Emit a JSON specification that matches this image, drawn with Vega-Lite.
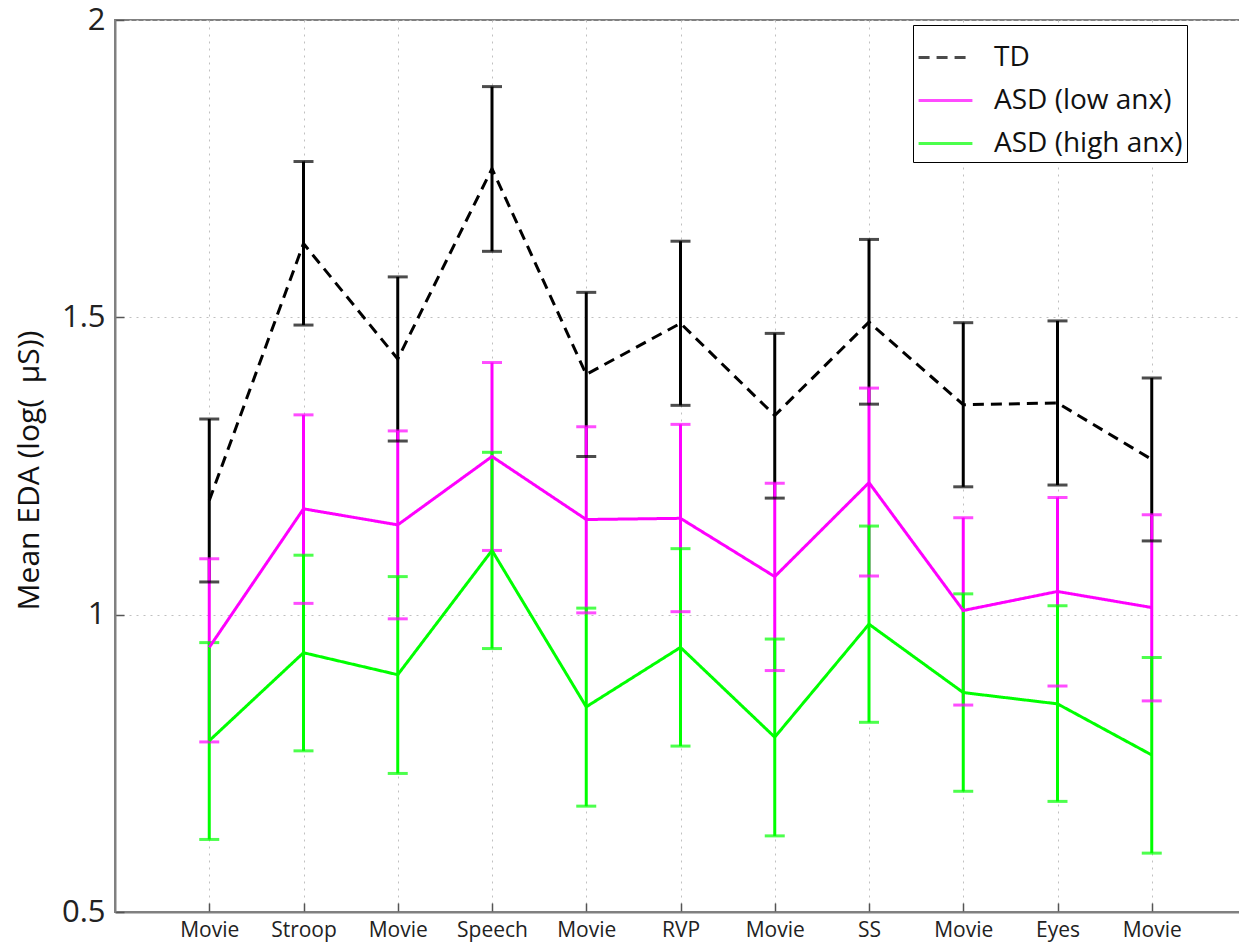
{
  "$schema": "https://vega.github.io/schema/vega-lite/v6.json",
  "width": 1131,
  "height": 892,
  "autosize": {"type": "none"},
  "padding": {"left": 115, "top": 20, "right": 0, "bottom": 34},
  "background": "white",
  "config": {
    "view": {"stroke": "#808080", "strokeWidth": 2},
    "font": "Open Sans"
  },
  "data": {
    "values": [
      {"pos": 1, "group": "TD", "mean": 1.192, "lo": 1.055, "hi": 1.329},
      {"pos": 2, "group": "TD", "mean": 1.624, "lo": 1.487, "hi": 1.762},
      {"pos": 3, "group": "TD", "mean": 1.430, "lo": 1.292, "hi": 1.568},
      {"pos": 4, "group": "TD", "mean": 1.750, "lo": 1.611, "hi": 1.888},
      {"pos": 5, "group": "TD", "mean": 1.404, "lo": 1.266, "hi": 1.542},
      {"pos": 6, "group": "TD", "mean": 1.490, "lo": 1.352, "hi": 1.628},
      {"pos": 7, "group": "TD", "mean": 1.335, "lo": 1.196, "hi": 1.473},
      {"pos": 8, "group": "TD", "mean": 1.492, "lo": 1.354, "hi": 1.631},
      {"pos": 9, "group": "TD", "mean": 1.353, "lo": 1.215, "hi": 1.491},
      {"pos": 10, "group": "TD", "mean": 1.356, "lo": 1.218, "hi": 1.494},
      {"pos": 11, "group": "TD", "mean": 1.261, "lo": 1.124, "hi": 1.398},
      {"pos": 1, "group": "ASD (low anx)", "mean": 0.945, "lo": 0.786, "hi": 1.094},
      {"pos": 2, "group": "ASD (low anx)", "mean": 1.178, "lo": 1.019, "hi": 1.336},
      {"pos": 3, "group": "ASD (low anx)", "mean": 1.151, "lo": 0.993, "hi": 1.309},
      {"pos": 4, "group": "ASD (low anx)", "mean": 1.266, "lo": 1.108, "hi": 1.424},
      {"pos": 5, "group": "ASD (low anx)", "mean": 1.160, "lo": 1.003, "hi": 1.316},
      {"pos": 6, "group": "ASD (low anx)", "mean": 1.162, "lo": 1.005, "hi": 1.320},
      {"pos": 7, "group": "ASD (low anx)", "mean": 1.064, "lo": 0.906, "hi": 1.221},
      {"pos": 8, "group": "ASD (low anx)", "mean": 1.222, "lo": 1.065, "hi": 1.381},
      {"pos": 9, "group": "ASD (low anx)", "mean": 1.007, "lo": 0.848, "hi": 1.163},
      {"pos": 10, "group": "ASD (low anx)", "mean": 1.039, "lo": 0.880, "hi": 1.197},
      {"pos": 11, "group": "ASD (low anx)", "mean": 1.012, "lo": 0.855, "hi": 1.168},
      {"pos": 1, "group": "ASD (high anx)", "mean": 0.788, "lo": 0.622, "hi": 0.953},
      {"pos": 2, "group": "ASD (high anx)", "mean": 0.936, "lo": 0.771, "hi": 1.100},
      {"pos": 3, "group": "ASD (high anx)", "mean": 0.899, "lo": 0.733, "hi": 1.064},
      {"pos": 4, "group": "ASD (high anx)", "mean": 1.108, "lo": 0.943, "hi": 1.273},
      {"pos": 5, "group": "ASD (high anx)", "mean": 0.845, "lo": 0.678, "hi": 1.011},
      {"pos": 6, "group": "ASD (high anx)", "mean": 0.945, "lo": 0.779, "hi": 1.111},
      {"pos": 7, "group": "ASD (high anx)", "mean": 0.794, "lo": 0.628, "hi": 0.959},
      {"pos": 8, "group": "ASD (high anx)", "mean": 0.984, "lo": 0.819, "hi": 1.149},
      {"pos": 9, "group": "ASD (high anx)", "mean": 0.869, "lo": 0.703, "hi": 1.035},
      {"pos": 10, "group": "ASD (high anx)", "mean": 0.850, "lo": 0.686, "hi": 1.015},
      {"pos": 11, "group": "ASD (high anx)", "mean": 0.764, "lo": 0.599, "hi": 0.928}
    ]
  },
  "encoding": {
    "x": {
      "field": "pos",
      "type": "quantitative",
      "scale": {"domain": [0, 12], "nice": false, "zero": false},
      "axis": {
        "title": null,
        "values": [1, 2, 3, 4, 5, 6, 7, 8, 9, 10, 11],
        "labelExpr": "['Movie','Stroop','Movie','Speech','Movie','RVP','Movie','SS','Movie','Eyes','Movie'][datum.value - 1]",
        "labelFontSize": 21,
        "labelColor": "#222222",
        "labelPadding": 16,
        "tickSize": -9,
        "tickColor": "#555555",
        "tickWidth": 1.5,
        "domainColor": "#808080",
        "domainWidth": 2,
        "grid": true,
        "gridDash": [2, 5],
        "gridColor": "#c0c0c0",
        "gridWidth": 1
      }
    },
    "color": {
      "field": "group",
      "type": "nominal",
      "scale": {
        "domain": ["TD", "ASD (low anx)", "ASD (high anx)"],
        "range": ["#000000", "#ff00ff", "#00ff00"]
      },
      "legend": {
        "title": null,
        "orient": "none",
        "legendX": 798,
        "legendY": 5,
        "padding": 4,
        "strokeColor": "#000000",
        "fillColor": "#ffffff",
        "symbolType": "stroke",
        "symbolSize": 2900,
        "symbolStrokeWidth": 3,
        "labelFontSize": 28,
        "labelColor": "#111111",
        "labelOffset": 20,
        "labelLimit": 400,
        "rowPadding": 0
      }
    }
  },
  "layer": [
    {
      "mark": {"type": "rule", "strokeWidth": 3},
      "encoding": {
        "y": {
          "field": "lo",
          "type": "quantitative",
          "scale": {"domain": [0.5, 2], "nice": false, "zero": false},
          "axis": {
            "title": "Mean EDA (log(\u00a0\u00a0µS))",
            "titleFontSize": 30,
            "titleFontWeight": "normal",
            "titleColor": "#111111",
            "titleX": -86,
            "titleY": 450,
            "titleAngle": -90,
            "titleAlign": "center",
            "titleBaseline": "middle",
            "values": [0.5, 1, 1.5, 2],
            "format": "~g",
            "labelFontSize": 31,
            "labelColor": "#222222",
            "labelPadding": 19,
            "tickSize": -9,
            "tickColor": "#555555",
            "tickWidth": 1.5,
            "domainColor": "#808080",
            "domainWidth": 2,
            "grid": true,
            "gridDash": [2, 5],
            "gridColor": "#c0c0c0",
            "gridWidth": 1
          }
        },
        "y2": {"field": "hi"}
      }
    },
    {
      "mark": {"type": "tick", "orient": "horizontal", "size": 20, "thickness": 3},
      "encoding": {
        "y": {"field": "lo", "type": "quantitative", "scale": {"domain": [0.5, 2], "nice": false, "zero": false}}
      }
    },
    {
      "mark": {"type": "tick", "orient": "horizontal", "size": 20, "thickness": 3},
      "encoding": {
        "y": {"field": "hi", "type": "quantitative", "scale": {"domain": [0.5, 2], "nice": false, "zero": false}}
      }
    },
    {
      "mark": {"type": "line", "strokeWidth": 3},
      "encoding": {
        "y": {"field": "mean", "type": "quantitative", "scale": {"domain": [0.5, 2], "nice": false, "zero": false}},
        "strokeDash": {
          "field": "group",
          "type": "nominal",
          "scale": {
            "domain": ["TD", "ASD (low anx)", "ASD (high anx)"],
            "range": [[11, 7], [1, 0], [1, 0]]
          }
        }
      }
    }
  ]
}
